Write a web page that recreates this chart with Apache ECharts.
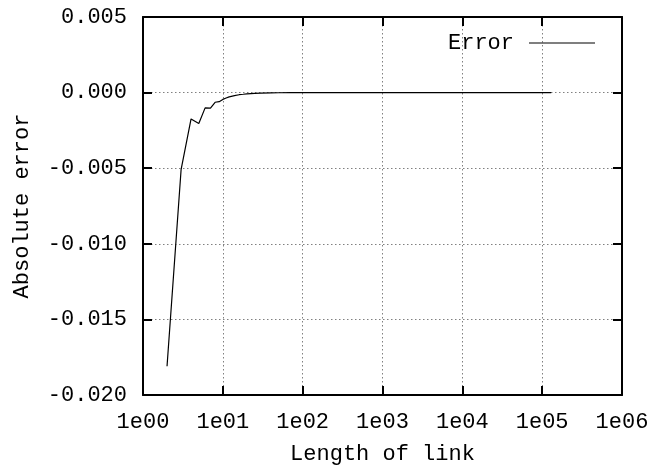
<!DOCTYPE html>
<html>
<head>
<meta charset="utf-8">
<script src="https://cdn.jsdelivr.net/npm/echarts@6/dist/echarts.min.js"></script>
<style>html,body{margin:0;padding:0;background:#fff}#c{width:651px;height:466px}</style>
</head>
<body>
<div id="c"></div>
<script>
var lengths = [2,3,4,5,6,7,8,9,10,11,12,14,16,18,20,25,30,40,50,70,100,200,500,1000,2000,5000,10000,20000,50000,130000];
var errors = [-0.0181,-0.0051,-0.00174,-0.00205,-0.00101,-0.00103,-0.00064,-0.0006,-0.00045,-0.00036,-0.00028,-0.0002,-0.00014,-0.00011,-0.00008,-0.00005,-0.00003,-0.000015,-0.00001,-0.000005,-0.000002,-0.000001,0,0,0,0,0,0,0,0];
var seriesName = 'Error';
var xTitle = 'Length of link';
var yTitle = 'Absolute error';

var FONT = 'Liberation Mono';
var FS = 22;
var pts = lengths.map(function(x, i){ return [x, errors[i]]; });

function xfmt(v){
  var e = Math.round(Math.log10(v));
  return '1e' + (e < 10 ? '0' + e : e);
}
var chart = echarts.init(document.getElementById('c'));
var axisLine = {show:true, onZero:false, lineStyle:{color:'#000', width:2}};
var tick = {show:true, inside:true, length:9, lineStyle:{color:'#000', width:2}};
var grid = {show:true, lineStyle:{color:'#808080', width:1, type:[1.5,2.5]}};
chart.setOption({
  animation:false,
  grid:{left:143, right:29, top:17, bottom:71, containLabel:false, outerBoundsMode:'none'},
  legend:{
    data:[{name:seriesName, icon:'rect'}],
    right:51, top:27, align:'right',
    itemWidth:66, itemHeight:1.2,
    textStyle:{fontFamily:FONT, fontSize:FS, color:'#000', padding:[0,10,0,0]}
  },
  xAxis:[{
    type:'log', logBase:10, min:1, max:1e6,
    axisLine:axisLine, axisTick:tick, splitLine:grid, minorTick:{show:false},
    axisLabel:{formatter:xfmt, fontFamily:FONT, fontSize:FS, color:'#000', margin:16},
    name:xTitle, nameLocation:'middle', nameGap:48,
    nameTextStyle:{fontFamily:FONT, fontSize:FS, color:'#000'}
  },{
    type:'log', logBase:10, min:1, max:1e6, position:'top',
    axisLine:axisLine, axisTick:tick, splitLine:{show:false}, axisLabel:{show:false}
  }],
  yAxis:[{
    type:'value', min:-0.02, max:0.005, interval:0.005,
    axisLine:axisLine, axisTick:tick, splitLine:grid,
    axisLabel:{formatter:function(v){return v.toFixed(3);}, fontFamily:FONT, fontSize:FS, color:'#000', margin:16},
    name:yTitle, nameLocation:'middle', nameGap:110,
    nameTextStyle:{fontFamily:FONT, fontSize:FS, color:'#000'}
  },{
    type:'value', min:-0.02, max:0.005, interval:0.005, position:'right',
    axisLine:axisLine, axisTick:tick, splitLine:{show:false}, axisLabel:{show:false}
  }],
  series:[{
    name:seriesName, type:'line', data:pts, showSymbol:false, symbol:'none',
    lineStyle:{color:'#000', width:1.2}, itemStyle:{color:'#000'}
  }]
});
</script>
</body>
</html>
